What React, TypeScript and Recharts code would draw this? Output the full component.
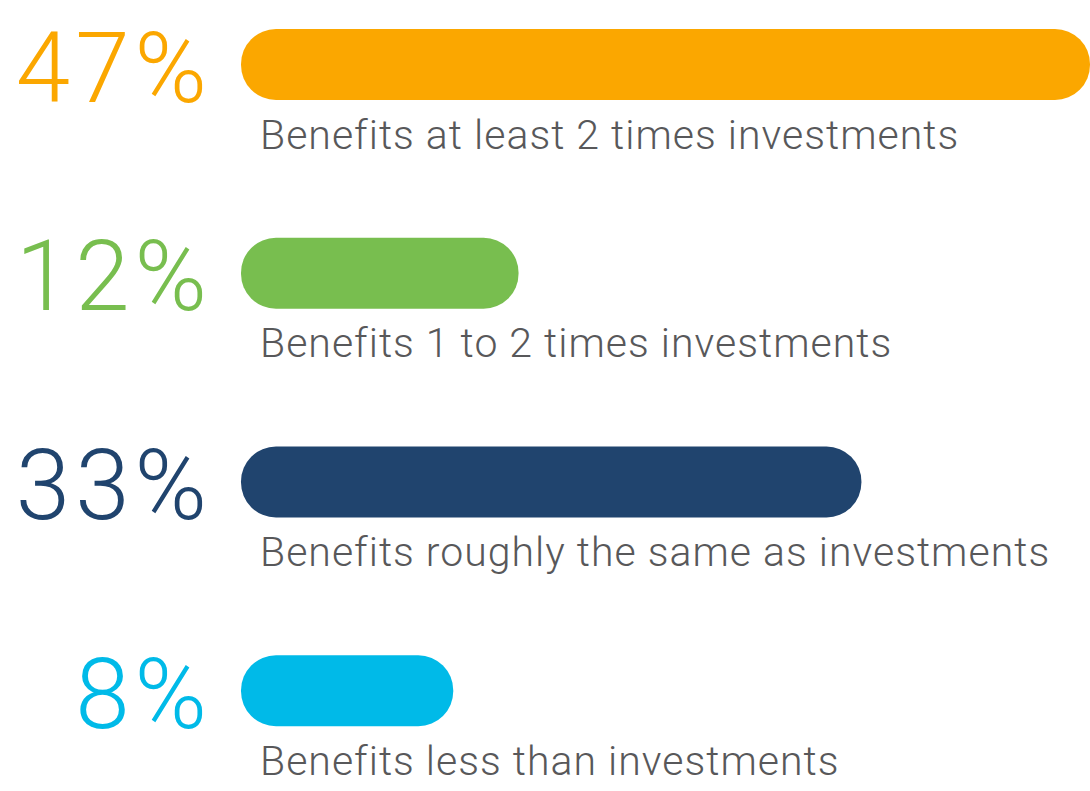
import React from "react";
import { BarChart, Bar, XAxis, YAxis, Cell, LabelList } from "recharts";

const categories = [
  "Benefits at least 2 times investments",
  "Benefits 1 to 2 times investments",
  "Benefits roughly the same as investments",
  "Benefits less than investments",
];
const shares = [47, 12, 33, 8];
const colors = ["#FBA700", "#78BE4F", "#20446E", "#00BAE8"];
// visual origin of the pill bars (in value units)
const barOrigin = -5;

const data = categories.map((name, i) => ({
  name,
  pct: shares[i],
  range: [barOrigin, shares[i]],
}));

const FONT = "Roboto, 'Open Sans', sans-serif";

const PctLabel = (props: any) => {
  const { x, y, height, index } = props;
  return (
    <text
      x={x - 29}
      y={y + height / 2 + 37}
      textAnchor="end"
      fontFamily={FONT}
      fontWeight={300}
      fontSize={98}
      letterSpacing={5}
      fill={colors[index]}
    >
      {`${shares[index]}%`}
    </text>
  );
};

const NameLabel = (props: any) => {
  const { x, y, height, index } = props;
  return (
    <text
      x={x + 19}
      y={y + height / 2 + 84}
      textAnchor="start"
      fontFamily={FONT}
      fontWeight={300}
      fontSize={41}
      letterSpacing={1}
      fill="#58585A"
    >
      {categories[index]}
    </text>
  );
};

export default function App() {
  return (
    <div
      style={{
        position: "absolute",
        left: 0,
        top: 0,
        width: 1090,
        height: 791,
        overflow: "hidden",
        background: "#ffffff",
      }}
    >
      <div style={{ position: "absolute", left: 0, top: -40 }}>
        <BarChart
          width={1090}
          height={835}
          data={data}
          layout="vertical"
          margin={{ top: 0, right: 0, bottom: 0, left: 241 }}
        >
          <XAxis type="number" domain={[barOrigin, 47]} hide />
          <YAxis type="category" dataKey="name" hide />
          <Bar dataKey="range" barSize={71} radius={35} isAnimationActive={false}>
            {data.map((d, i) => (
              <Cell key={d.name} fill={colors[i]} />
            ))}
            <LabelList dataKey="pct" content={PctLabel} />
            <LabelList dataKey="name" content={NameLabel} />
          </Bar>
        </BarChart>
      </div>
    </div>
  );
}
